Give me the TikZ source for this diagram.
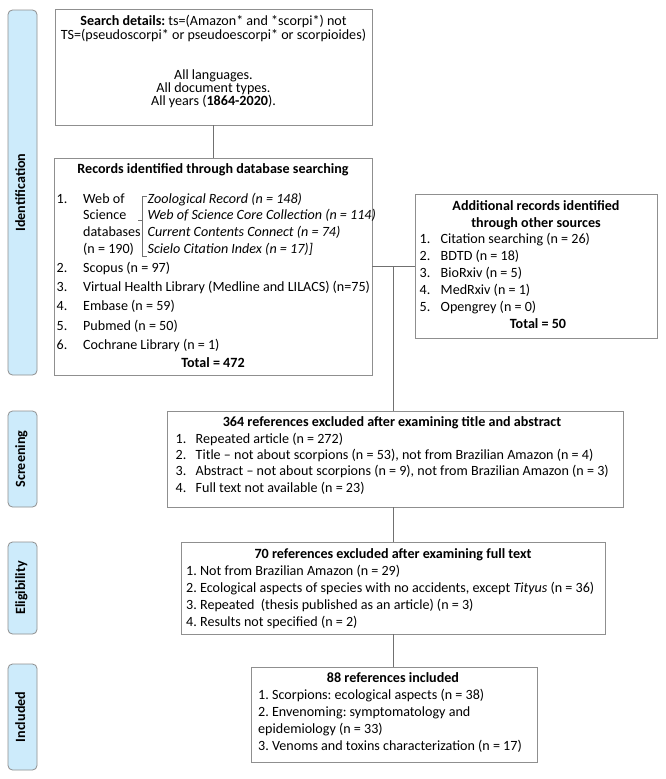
\documentclass[tikz,border=0pt]{standalone}
\usepackage{fontspec}
\setmainfont{Carlito}
\usetikzlibrary{calc}
\definecolor{barfill}{HTML}{CDEBFB}
\definecolor{barline}{HTML}{8F8F8F}
\definecolor{boxline}{HTML}{8F8F8F}
\definecolor{connline}{HTML}{707070}
\newcommand\mybody[1]{\fontsize{14.1}{#1}\selectfont\lineskiplimit=-30pt\lineskip=0pt\relax}
\newcommand\fst{\spaceskip=0pt\xspaceskip=0pt\frenchspacing\rule{0pt}{12pt}}
\newcommand\nb[2]{\makebox[#1][l]{#2}}
\begin{document}
\begin{tikzpicture}[x=1pt,y=-1pt,
  box/.style={draw=boxline, line width=0.9pt, rectangle, inner sep=0pt},
  bar/.style={draw=barline, line width=0.8pt, fill=barfill, rounded corners=4.5pt, inner sep=0pt, rotate=90, minimum height=29pt, text height=9pt, text depth=4pt, font=\fontsize{14.1}{16}\selectfont\bfseries},
  txt/.style={inner sep=0pt, anchor=north west, align=flush left},
  ctxt/.style={inner sep=0pt, anchor=north, align=flush center},
  link/.style={draw=connline, line width=0.8pt},
  brk/.style={draw=connline, line width=0.7pt}]
\path[fill=white, use as bounding box] (0,0) rectangle (666,779);

% stage bars
\node[bar, minimum width=365pt] (barid) at (22.5,192.5) {Identification};
\node[bar, minimum width=96pt] (barscr) at (22.5,459) {Screening};
\node[bar, minimum width=92pt] (barelig) at (22.5,588) {Eligibility};
\node[bar, minimum width=106pt] (barincl) at (22.5,717) {Included};

% boxes
\node[box, minimum width=317pt, minimum height=116pt] (search) at (213.5,67) {};
\node[box, minimum width=318pt, minimum height=217pt] (records) at (213,266.5) {};
\node[box, minimum width=242pt, minimum height=144pt] (additional) at (536,266) {};
\node[box, minimum width=456pt, minimum height=96pt] (screening) at (395,459) {};
\node[box, minimum width=424pt, minimum height=92pt] (eligibility) at (393,588) {};
\node[box, minimum width=286pt, minimum height=95pt] (included) at (394,714.5) {};

% connectors
\draw[link] (search.south) -- (search.south |- records.north);
\draw[link] (records.east) -- (records.east -| additional.west);
\coordinate (j) at ($(records.east)!0.5!(records.east -| additional.west)$);
\draw[link] (j) -- (j |- screening.north);
\draw[link] (j |- screening.south) -- (j |- eligibility.north);
\draw[link] (j |- eligibility.south) -- (j |- included.north);

% search details
\node[ctxt, text width=317pt, font={\mybody{13.3}}] (searchtxt) at (213.5,13.7) {\fst\textbf{Search details:} ts=(Amazon* and *scorpi*) not\\TS=(pseudoscorpi* or pseudoescorpi* or scorpioides)\\[26.7pt]All languages.\\All document types.\\All years (\textbf{1864-2020}).};

% records
\node[ctxt, text width=318pt, font={\mybody{16}}] (rectitle) at (213,161) {\fst\textbf{Records identified through database searching}};
\node[txt, text width=90pt, font={\mybody{16.6}}] (recwos) at (56.5,191) {\fst\nb{26.5pt}{1.}Web of\\\hspace*{26.5pt}Science\\\hspace*{26.5pt}databases\\\hspace*{26.5pt}(n = 190)};
\node[txt, text width=240pt, font={\mybody{16.6}\itshape}] (recdb) at (147.5,191) {\fst Zoological Record (n = 148)\\Web of Science Core Collection (n = 114)\\Current Contents Connect (n = 74)\\Scielo Citation Index (n = 17)]};
\draw[brk] (146.5,196) -- (142.7,196) -- (142.7,256) -- (146.5,256) (142.7,220.7) -- (137.5,220.7);
\node[txt, text width=330pt, font={\mybody{19.3}}] (reclist) at (56.5,260) {\fst\nb{26.5pt}{2.}Scopus (n = 97)\\\nb{26.5pt}{3.}Virtual Health Library (Medline and LILACS) (n=75)\\\nb{26.5pt}{4.}Embase (n = 59)\\\nb{26.5pt}{5.}Pubmed (n = 50)\\\nb{26.5pt}{6.}Cochrane Library (n = 1)};
\node[ctxt, text width=318pt, font={\mybody{16}}] (rectotal) at (213,355) {\fst\textbf{Total = 472}};

% additional
\node[ctxt, text width=242pt, font={\mybody{17}\bfseries}] (addtitle) at (536,198) {\fst Additional records identified\\through other sources};
\node[txt, text width=240pt, font={\mybody{17}}] (addlist) at (419.5,231.5) {\fst\nb{21pt}{1.}Citation searching (n = 26)\\\nb{21pt}{2.}BDTD (n = 18)\\\nb{21pt}{3.}BioRxiv (n = 5)\\\nb{21pt}{4.}MedRxiv (n = 1)\\\nb{21pt}{5.}Opengrey (n = 0)};
\node[ctxt, text width=242pt, font={\mybody{17}}] (addtotal) at (538,316.5) {\fst\textbf{Total = 50}};

% screening
\node[ctxt, text width=456pt, font={\mybody{16.4}}] (scrtitle) at (392,414.5) {\fst\textbf{364 references excluded after examining title and abstract}};
\node[txt, text width=450pt, font={\mybody{16.4}}] (scrlist) at (175.5,430.9) {\fst\nb{20pt}{1.}Repeated article (n = 272)\\\nb{20pt}{2.}Title -- not about scorpions (n = 53), not from Brazilian Amazon (n = 4)\\\nb{20pt}{3.}Abstract -- not about scorpions (n = 9), not from Brazilian Amazon (n = 3)\\\nb{20pt}{4.}Full text not available (n = 23)};

% eligibility
\node[ctxt, text width=424pt, font={\mybody{17}}] (eligtitle) at (393,546) {\fst\textbf{70 references excluded after examining full text}};
\node[txt, text width=420pt, font={\mybody{17}}] (eliglist) at (186,563) {\fst 1. Not from Brazilian Amazon (n = 29)\\2. Ecological aspects of species with no accidents, except \textit{Tityus} (n = 36)\\3. Repeated\ \ (thesis published as an article) (n = 3)\\4. Results not specified (n = 2)};

% included
\node[ctxt, text width=286pt, font={\mybody{17}}] (incltitle) at (393,670.3) {\fst\textbf{88 references included}};
\node[txt, text width=280pt, font={\mybody{17}}] (incllist) at (258,687.3) {\fst 1. Scorpions: ecological aspects (n = 38)\\2. Envenoming: symptomatology and\\epidemiology (n = 33)\\3. Venoms and toxins characterization (n = 17)};
\end{tikzpicture}
\end{document}
